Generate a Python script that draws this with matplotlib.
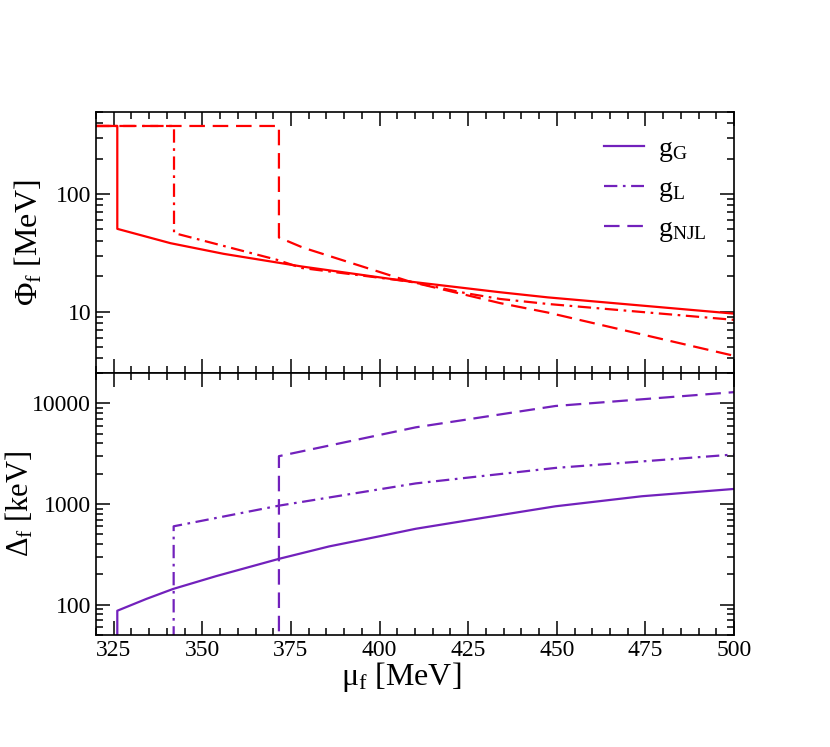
import matplotlib.pyplot as plt
from matplotlib.ticker import MultipleLocator, LogLocator, NullFormatter

plt.rcParams['font.family'] = ['Liberation Serif', 'DejaVu Serif']
plt.rcParams['mathtext.fontset'] = 'custom'
plt.rcParams['mathtext.rm'] = 'Liberation Serif'
plt.rcParams['mathtext.it'] = 'Liberation Serif:italic'

# top panel: condensate Phi_f [MeV]
mu_phi_G = [320, 326, 326, 341, 356, 378, 408.5, 434, 447.5, 500]
phi_G = [380, 380, 50.6, 38.2, 31.0, 24.2, 18.0, 14.6, 13.2, 9.6]
mu_phi_L = [320, 342, 342, 371, 378, 408.5, 424.5, 434, 447.5, 500]
phi_L = [380, 380, 46.6, 27.6, 23.5, 18.0, 14.3, 12.8, 11.6, 8.5]
mu_phi_NJL = [320, 371.6, 371.6, 378.4, 408.5, 434, 447.5, 500]
phi_NJL = [380, 380, 42.7, 35.0, 18.0, 11.8, 9.8, 4.2]

# bottom panel: gap Delta_f [keV]
mu_del_G = [326, 326, 334.2, 341.7, 353.9, 371.6, 385.8, 399.9, 410.2, 429, 449.6, 474, 500]
del_G = [1, 87, 114, 143, 192, 285, 379, 477, 567, 726, 948, 1193, 1410]
mu_del_L = [341.9, 341.9, 371.6, 410.2, 449.6, 500]
del_L = [1, 600, 962, 1600, 2280, 3100]
mu_del_NJL = [371.6, 371.6, 410.2, 449.6, 500]
del_NJL = [1, 2984, 5770, 9400, 12900]

labels = ['g$_\\mathrm{G}$', 'g$_\\mathrm{L}$', 'g$_\\mathrm{NJL}$']
red = '#ff0000'
purple = '#7221bc'
dash = (7, 3.5)
dashdot = (6, 2.5, 1.2, 2.5)

fig = plt.figure(figsize=(8.3, 7.47), dpi=100)
ax1 = fig.add_axes([0.1157, 0.5007, 0.7687, 0.3494])
ax2 = fig.add_axes([0.1157, 0.1500, 0.7687, 0.3507])

lw = 1.6
ax1.plot(mu_phi_G, phi_G, color=red, lw=lw)
ax1.plot(mu_phi_L, phi_L, color=red, lw=lw, dashes=dashdot)
ax1.plot(mu_phi_NJL, phi_NJL, color=red, lw=lw, dashes=dash)

l1, = ax2.plot(mu_del_G, del_G, color=purple, lw=lw)
l2, = ax2.plot(mu_del_L, del_L, color=purple, lw=lw, dashes=dashdot)
l3, = ax2.plot(mu_del_NJL, del_NJL, color=purple, lw=lw, dashes=dash)

ax1.legend([l1, l2, l3], labels, loc='upper left', bbox_to_anchor=(0.796, 0.905),
           frameon=False, fontsize=20, handlelength=1.45, handletextpad=0.5,
           labelspacing=0.45, borderpad=0, borderaxespad=0)

ax1.set_yscale('log')
ax2.set_yscale('log')

for ax in (ax1, ax2):
    ax.set_xlim(320, 500)
    ax.xaxis.set_major_locator(MultipleLocator(25))
    ax.xaxis.set_minor_locator(MultipleLocator(5))
    ax.yaxis.set_major_locator(LogLocator(base=10))
    ax.yaxis.set_minor_locator(LogLocator(base=10, subs=range(2, 10)))
    ax.yaxis.set_minor_formatter(NullFormatter())
    ax.tick_params(which='both', direction='in', top=True, right=True,
                   labelsize=17, width=1.1)
    ax.tick_params(which='major', length=10)
    ax.tick_params(which='minor', length=5)
    for s in ax.spines.values():
        s.set_linewidth(1.2)

ax1.tick_params(labelbottom=False)
ax1.set_yticks([10, 100])
ax1.set_yticklabels(['10', '100'])
ax2.set_yticks([100, 1000, 10000])
ax2.set_yticklabels(['100', '1000', '10000'])
ax1.set_ylim(3, 500)
ax2.set_ylim(50, 20000)

ax1.set_ylabel('Φ$_\\mathrm{f}$ [MeV]', fontsize=23, labelpad=8)
ax2.set_ylabel('Δ$_\\mathrm{f}$ [keV]', fontsize=22, labelpad=-2)
ax2.set_xlabel('μ$_\\mathrm{f}$ [MeV]', fontsize=23, labelpad=2)
ax2.xaxis.set_label_coords(0.478, -0.095)

fig.savefig('out.png', dpi=100)
